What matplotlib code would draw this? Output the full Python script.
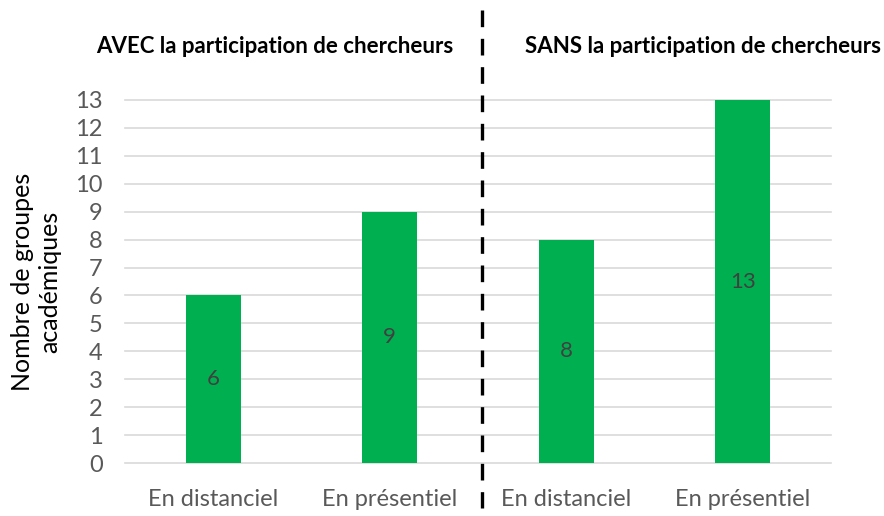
import matplotlib.pyplot as plt
from matplotlib.lines import Line2D
import numpy as np

categories = ['En distanciel', 'En présentiel', 'En distanciel', 'En présentiel']
values = [6, 9, 8, 13]
group_titles = ['AVEC la participation de chercheurs', 'SANS la participation de chercheurs']

plt.rcParams['font.family'] = ['Lato', 'DejaVu Sans']

fig = plt.figure(figsize=(8.84, 5.16), dpi=100)
ax = fig.add_axes([125/884, 1-463/516, (831-125)/884, 363/516])

x = np.arange(len(categories))
bars = ax.bar(x, values, width=0.31, color='#00B050', zorder=3)
for xi, v in zip(x, values):
    ax.text(xi, v/2, str(v), ha='center', va='center', fontsize=16, color='#404040', zorder=4)

ax.set_xlim(-0.5, 3.5)
ax.set_ylim(0, 13)
ax.set_yticks(range(0, 14))
ax.set_xticks(x)
ax.set_xticklabels(categories)
ax.tick_params(axis='both', length=0, labelsize=17, labelcolor='#595959')
ax.tick_params(axis='x', pad=19)
ax.tick_params(axis='y', pad=16)
ax.grid(axis='y', color='#d9d9d9', linewidth=1.2, zorder=0)
for gl in ax.get_ygridlines():
    gl.set_clip_on(False)
for s in ax.spines.values():
    s.set_visible(False)

ax.set_ylabel('Nombre de groupes\nacadémiques', fontsize=18, color='#000000', labelpad=10, linespacing=1.25)

# group titles
fig.text(275/884, 1-47/516, group_titles[0], ha='center', va='center', fontsize=16, fontweight='bold')
fig.text(703/884, 1-47/516, group_titles[1], ha='center', va='center', fontsize=16, fontweight='bold')

# dashed separator
fig.add_artist(Line2D([482/884, 482/884], [1-10/516, 1-508/516], transform=fig.transFigure,
                      color='black', linewidth=2.4, linestyle=(0, (5, 3.5))))

fig.savefig('out.png', dpi=100)
